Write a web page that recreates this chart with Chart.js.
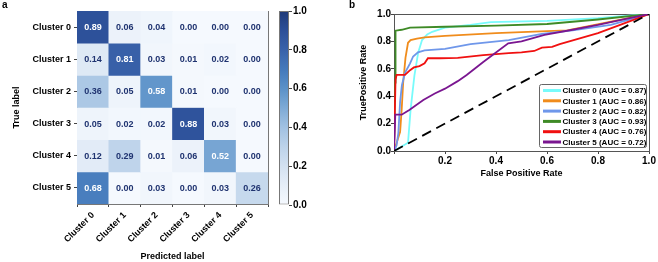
<!DOCTYPE html>
<html>
<head>
<meta charset="utf-8">
<script src="https://cdn.jsdelivr.net/npm/chart.js@4.4.1/dist/chart.umd.min.js"></script>
<style>
  html, body { margin: 0; padding: 0; background: #ffffff; }
  #wrap { position: relative; width: 658px; height: 262px; overflow: hidden; background: #fff; }
  canvas { position: absolute; top: 0; }
  .panel { position: absolute; font-family: "Liberation Sans", Arial, sans-serif; font-weight: bold; font-size: 10px; color: #000; line-height: 10px; }
</style>
</head>
<body>
<div id="wrap">
  <canvas id="hm" width="275" height="262" style="left:0px"></canvas>
  <canvas id="cb" width="60" height="262" style="left:270px"></canvas>
  <canvas id="roc" width="328" height="262" style="left:330px"></canvas>
  <div class="panel" style="left:2px; top:0px;">a</div>
  <div class="panel" style="left:349px; top:0px;">b</div>
</div>
<script>
// ---------- Confusion matrix data ----------
const predLabels = ['Cluster 0', 'Cluster 1', 'Cluster 2', 'Cluster 3', 'Cluster 4', 'Cluster 5'];
const trueLabels = ['Cluster 0', 'Cluster 1', 'Cluster 2', 'Cluster 3', 'Cluster 4', 'Cluster 5'];
const cmRow0 = [0.89, 0.06, 0.04, 0.00, 0.00, 0.00];
const cmRow1 = [0.14, 0.81, 0.03, 0.01, 0.02, 0.00];
const cmRow2 = [0.36, 0.05, 0.58, 0.01, 0.00, 0.00];
const cmRow3 = [0.05, 0.02, 0.02, 0.88, 0.03, 0.00];
const cmRow4 = [0.12, 0.29, 0.01, 0.06, 0.52, 0.00];
const cmRow5 = [0.68, 0.00, 0.03, 0.00, 0.03, 0.26];
const cmRows = [cmRow0, cmRow1, cmRow2, cmRow3, cmRow4, cmRow5];
const cbTicks = [0.0, 0.2, 0.4, 0.6, 0.8, 1.0];

// ---------- ROC data ----------
const rocNames = ['Cluster 0 (AUC = 0.87)', 'Cluster 1 (AUC = 0.86)', 'Cluster 2 (AUC = 0.82)',
                  'Cluster 3 (AUC = 0.93)', 'Cluster 4 (AUC = 0.76)', 'Cluster 5 (AUC = 0.72)'];
const fpr0 = [0, 0.055, 0.065, 0.08, 0.095, 0.11, 0.13, 0.15, 0.2, 0.3, 0.38, 0.6, 0.8, 1];
const tpr0 = [0, 0.06, 0.30, 0.55, 0.72, 0.81, 0.85, 0.87, 0.90, 0.92, 0.94, 0.95, 0.97, 1];
const fpr1 = [0, 0.012, 0.024, 0.03, 0.036, 0.045, 0.055, 0.065, 0.09, 0.12, 0.2, 0.4, 0.6, 0.68, 1];
const tpr1 = [0, 0.07, 0.14, 0.30, 0.50, 0.68, 0.79, 0.81, 0.82, 0.83, 0.84, 0.86, 0.875, 0.88, 1];
const fpr2 = [0, 0.01, 0.017, 0.024, 0.031, 0.043, 0.063, 0.075, 0.094, 0.12, 0.2, 0.3, 0.45, 0.58, 0.7, 0.85, 1];
const tpr2 = [0, 0.04, 0.13, 0.36, 0.48, 0.57, 0.64, 0.69, 0.72, 0.735, 0.745, 0.78, 0.81, 0.855, 0.88, 0.92, 1];
const fpr3 = [0, 0.004, 0.006, 0.03, 0.063, 0.2, 0.4, 0.6, 0.8, 1];
const tpr3 = [0, 0.50, 0.878, 0.885, 0.90, 0.907, 0.915, 0.927, 0.96, 1];
const fpr4 = [0, 0.006, 0.01, 0.015, 0.043, 0.063, 0.078, 0.1, 0.12, 0.133, 0.18, 0.25, 0.35, 0.45, 0.5, 0.55, 0.58, 0.62, 0.65, 0.8, 0.9, 1];
const tpr4 = [0, 0.52, 0.555, 0.555, 0.555, 0.59, 0.61, 0.62, 0.64, 0.677, 0.677, 0.68, 0.70, 0.715, 0.72, 0.73, 0.755, 0.76, 0.78, 0.86, 0.93, 1];
const fpr5 = [0, 0.005, 0.03, 0.06, 0.115, 0.16, 0.2, 0.25, 0.285, 0.35, 0.448, 0.5, 0.59, 0.7, 0.8, 0.9, 1];
const tpr5 = [0, 0.265, 0.265, 0.30, 0.372, 0.42, 0.455, 0.51, 0.555, 0.65, 0.786, 0.80, 0.847, 0.885, 0.92, 0.96, 1];
const chanceX = [0, 1];
const chanceY = [0, 1];
const rocFpr = [fpr0, fpr1, fpr2, fpr3, fpr4, fpr5];
const rocTpr = [tpr0, tpr1, tpr2, tpr3, tpr4, tpr5];
const rocColors = ['#78fbfb', '#f08c1c', '#6f97ea', '#3e8a26', '#f01010', '#7a1690'];

// ---------- helpers ----------
const FONT = '"Liberation Sans", Arial, sans-serif';
const cmapStops = [
  [0.0, [245, 249, 254]], [0.1, [230, 238, 248]], [0.2, [211, 225, 241]],
  [0.3, [189, 211, 234]], [0.4, [161, 193, 226]], [0.5, [126, 170, 214]],
  [0.6, [91, 145, 200]], [0.7, [68, 121, 187]], [0.8, [57, 98, 170]],
  [0.9, [44, 79, 152]], [1.0, [31, 58, 120]]
];
function blues(v) {
  v = Math.max(0, Math.min(1, v));
  for (let i = 1; i < cmapStops.length; i++) {
    const [p1, c1] = cmapStops[i];
    const [p0, c0] = cmapStops[i - 1];
    if (v <= p1) {
      const t = (v - p0) / (p1 - p0);
      const c = c0.map((a, k) => Math.round(a + (c1[k] - a) * t));
      return `rgb(${c[0]},${c[1]},${c[2]})`;
    }
  }
  return 'rgb(31,58,120)';
}

Chart.defaults.font.family = FONT;
Chart.defaults.font.weight = 'bold';
Chart.defaults.color = '#000';
Chart.defaults.animation = false;

function frameAxis(pos, color) {
  return {
    type: 'linear', position: pos, min: 0, max: 1,
    grid: { display: false }, ticks: { display: false },
    border: { display: true, color: color, width: 1 },
    afterFit: s => { if (pos === 'top') s.height = 0; else s.width = 0; }
  };
}

// ---------- Heatmap ----------
const cellTextPlugin = {
  id: 'cellText',
  afterDatasetsDraw(chart) {
    const ctx = chart.ctx;
    ctx.save();
    ctx.font = `bold 9px ${FONT}`;
    ctx.textAlign = 'center';
    ctx.textBaseline = 'middle';
    chart.data.datasets.forEach((ds, r) => {
      const meta = chart.getDatasetMeta(r);
      meta.data.forEach((el, c) => {
        const v = cmRows[r][c];
        const p = el.getCenterPoint();
        ctx.fillStyle = v > 0.5 ? '#ffffff' : '#1f3370';
        ctx.fillText(v.toFixed(2), p.x, p.y + 0.5);
      });
    });
    ctx.restore();
  }
};

new Chart(document.getElementById('hm'), {
  type: 'bar',
  data: {
    labels: predLabels,
    datasets: cmRows.map((row, r) => ({
      label: trueLabels[r],
      data: row.map(() => 1),
      backgroundColor: row.map(v => blues(v)),
      borderWidth: 0,
      barPercentage: 1,
      categoryPercentage: 1,
      stack: 'cm'
    }))
  },
  options: {
    responsive: false,
    animation: false,
    layout: { padding: { left: 11, top: 11, right: 7, bottom: 0 } },
    plugins: { legend: { display: false }, tooltip: { enabled: false } },
    scales: {
      x: {
        stacked: true,
        grid: { drawOnChartArea: false, drawTicks: true, tickLength: 3, color: '#444' },
        border: { display: true, color: '#777', width: 1 },
        ticks: { minRotation: 45, maxRotation: 45, padding: 3, font: { size: 9, weight: 'bold' }, color: '#000' },
        title: { display: true, text: 'Predicted label', padding: 0, font: { size: 9, weight: 'bold' }, color: '#000' },
        afterFit: s => { s.height = 58; }
      },
      y: {
        type: 'linear',
        stacked: true,
        min: 0,
        max: 6,
        reverse: true,
        afterBuildTicks: ax => { ax.ticks = trueLabels.map((_, i) => ({ value: i + 0.5 })); },
        grid: { drawOnChartArea: false, drawTicks: true, tickLength: 3, color: '#444' },
        border: { display: true, color: '#777', width: 1 },
        ticks: { callback: (v, i) => trueLabels[i], padding: 3, font: { size: 9, weight: 'bold' }, color: '#000' },
        title: { display: true, text: 'True label', padding: 0, font: { size: 9, weight: 'bold' }, color: '#000' },
        afterFit: s => { s.width = 66; }
      },
      x2: frameAxis('top', '#777'),
      y2: frameAxis('right', '#777')
    }
  },
  plugins: [cellTextPlugin]
});

// ---------- Colorbar ----------
new Chart(document.getElementById('cb'), {
  type: 'bar',
  data: {
    labels: [''],
    datasets: [{
      data: [[cbTicks[0], cbTicks[cbTicks.length - 1]]],
      backgroundColor: c => {
        const ch = c.chart;
        const a = ch.chartArea;
        if (!a) return blues(0.5);
        const g = ch.ctx.createLinearGradient(0, a.bottom, 0, a.top);
        for (let i = 0; i <= 20; i++) g.addColorStop(i / 20, blues(i / 20));
        return g;
      },
      borderColor: '#777',
      borderWidth: 1,
      borderSkipped: false,
      inflateAmount: 0,
      barPercentage: 1,
      categoryPercentage: 1
    }]
  },
  options: {
    responsive: false,
    animation: false,
    layout: { padding: { left: 9, top: 11, right: 0, bottom: 57 } },
    plugins: { legend: { display: false }, tooltip: { enabled: false } },
    scales: {
      x: { display: false },
      y: {
        position: 'right',
        min: 0, max: 1,
        afterBuildTicks: ax => { ax.ticks = cbTicks.map(v => ({ value: v })); },
        grid: { drawOnChartArea: false, drawTicks: true, tickLength: 3, color: '#444' },
        border: { display: false },
        ticks: { callback: v => v.toFixed(1), padding: 1, font: { size: 10, weight: 'bold' }, color: '#000' },
        afterFit: s => { s.width = 41; }
      }
    }
  }
});

// ---------- ROC ----------
const rocLegendPlugin = {
  id: 'rocLegend',
  afterDraw(chart) {
    const ctx = chart.ctx;
    const a = chart.chartArea;
    const w = 107, h = 63;
    const x0 = a.right - 3 - w, y0 = a.bottom - 4 - h;
    ctx.save();
    ctx.beginPath();
    if (ctx.roundRect) ctx.roundRect(x0 + 0.5, y0 + 0.5, w, h, 2); else ctx.rect(x0 + 0.5, y0 + 0.5, w, h);
    ctx.fillStyle = 'rgba(255,255,255,0.9)';
    ctx.fill();
    ctx.strokeStyle = '#666';
    ctx.lineWidth = 1;
    ctx.stroke();
    ctx.font = `bold 8px ${FONT}`;
    ctx.textAlign = 'left';
    ctx.textBaseline = 'middle';
    rocNames.forEach((name, i) => {
      const yy = y0 + 6.5 + i * 10.3;
      ctx.strokeStyle = rocColors[i];
      ctx.lineWidth = 3;
      ctx.beginPath();
      ctx.moveTo(x0 + 4, yy);
      ctx.lineTo(x0 + 22, yy);
      ctx.stroke();
      ctx.fillStyle = '#000';
      ctx.fillText(name, x0 + 23.5, yy + 0.5);
    });
    ctx.restore();
  }
};

const rocDatasets = rocNames.map((name, i) => ({
  label: name,
  data: rocFpr[i].map((x, k) => ({ x: x, y: rocTpr[i][k] })),
  borderColor: rocColors[i],
  borderWidth: 1.8,
  pointRadius: 0,
  tension: 0,
  fill: false,
  order: 7 - i
}));
rocDatasets.push({
  label: 'chance',
  data: chanceX.map((x, k) => ({ x: x, y: chanceY[k] })),
  borderColor: '#000',
  borderWidth: 1.8,
  borderDash: [10, 6],
  pointRadius: 0,
  tension: 0,
  fill: false,
  order: 0
});

new Chart(document.getElementById('roc'), {
  type: 'line',
  data: { datasets: rocDatasets },
  options: {
    responsive: false,
    animation: false,
    layout: { padding: { left: 28, top: 14, right: 9, bottom: 83 } },
    plugins: { legend: { display: false }, tooltip: { enabled: false } },
    scales: {
      x: {
        type: 'linear', min: 0, max: 1,
        afterBuildTicks: ax => { ax.ticks = [0, 0.2, 0.4, 0.6, 0.8, 1.0].map(v => ({ value: v })); },
        grid: { drawOnChartArea: false, drawTicks: true, tickLength: 3, color: '#444' },
        border: { display: true, color: '#555', width: 1 },
        ticks: { callback: v => (v === 0 ? '' : v.toFixed(1)), padding: 1, maxRotation: 0, font: { size: 10, weight: 'bold' }, color: '#000' },
        title: { display: true, text: 'False Positive Rate', padding: 0, font: { size: 9, weight: 'bold' }, color: '#000' },
        afterFit: s => { s.height = 28; }
      },
      y: {
        type: 'linear', min: 0, max: 1,
        afterBuildTicks: ax => { ax.ticks = [0, 0.2, 0.4, 0.6, 0.8, 1.0].map(v => ({ value: v })); },
        grid: { drawOnChartArea: false, drawTicks: true, tickLength: 3, color: '#444' },
        border: { display: true, color: '#555', width: 1 },
        ticks: { callback: v => v.toFixed(1), padding: 0, font: { size: 10, weight: 'bold' }, color: '#000' },
        title: { display: true, text: 'TruePositive Rate', padding: 0, font: { size: 9, weight: 'bold' }, color: '#000' },
        afterFit: s => { s.width = 36; }
      },
      x2: frameAxis('top', '#555'),
      y2: frameAxis('right', '#555')
    }
  },
  plugins: [rocLegendPlugin]
});
</script>
</body>
</html>
